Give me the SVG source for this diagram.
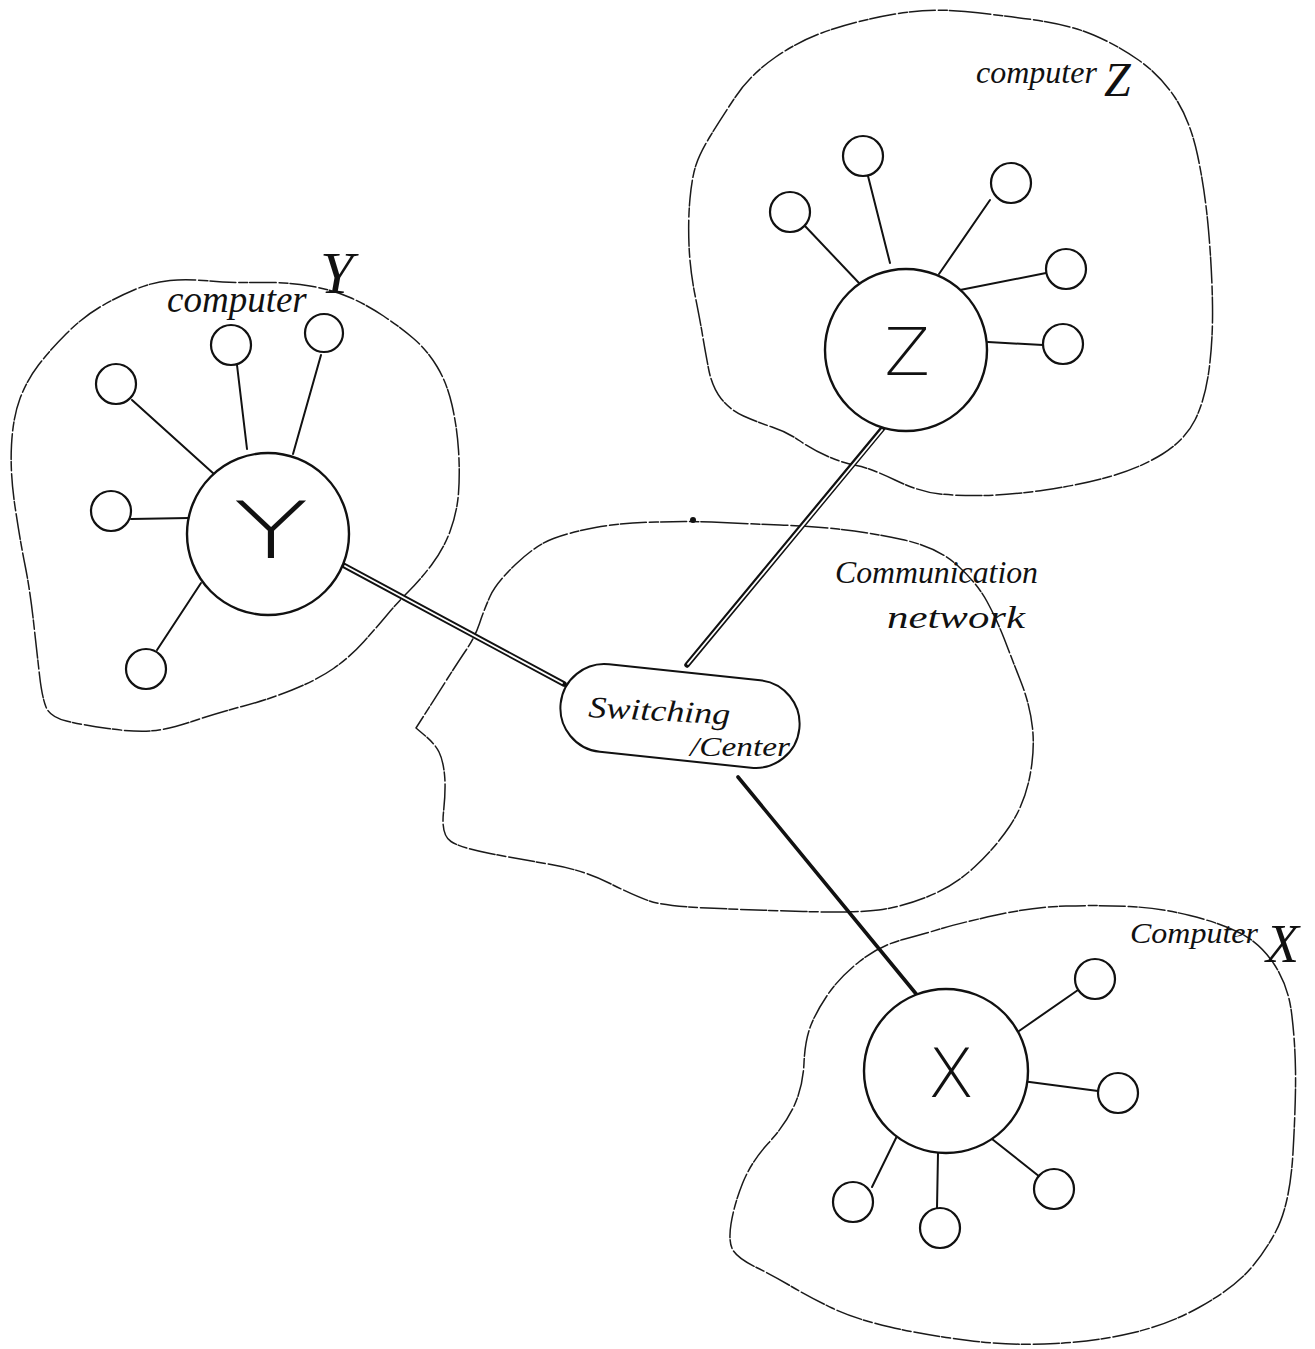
<svg xmlns="http://www.w3.org/2000/svg" width="1315" height="1349" viewBox="0 0 1315 1349">
<style>
.blob{fill:none;stroke:#1a1a1a;stroke-width:1.5;stroke-dasharray:26 3 9 2;stroke-linecap:round;stroke-linejoin:round}
.big{fill:#fff;stroke:#111;stroke-width:2.4}
.small{fill:#fff;stroke:#111;stroke-width:2.2}
.spoke{stroke:#111;stroke-width:2;stroke-linecap:round}
.pipeOut{stroke:#111;stroke-width:5.5;stroke-linecap:round}
.pipeIn{stroke:#fff;stroke-width:1.8;stroke-linecap:round}
.solid{stroke:#111;stroke-width:3.6;stroke-linecap:round}
.hand{font-family:"Liberation Serif","DejaVu Serif",serif;font-style:italic;fill:#111}
.letter{font-family:"DejaVu Sans","Liberation Sans",sans-serif;font-weight:200;fill:#111}
.box{fill:#fff;stroke:#111;stroke-width:2}
</style>
<rect width="1315" height="1349" fill="#fff"/>

<g id="region-computer-Z">
<path class="blob" d="M965,11.5 Q1000,15 1035,20 Q1070,25 1093.5,35 Q1117,45 1138.5,60 Q1160,75 1175,97.5 Q1190,120 1197.5,155 Q1205,190 1208.5,230 Q1212,270 1212.5,305 Q1213,340 1209,370 Q1205,400 1195,420 Q1185,440 1162.5,454 Q1140,468 1110,476.5 Q1080,485 1045,490 Q1010,495 985,495.5 Q960,496 940,494 Q920,492 895,480 Q870,468 856.5,465.5 Q843,463 828,456.5 Q813,450 800,441 Q787,432 772,427 Q757,422 743.5,416 Q730,410 721,398.5 Q712,387 708.5,368.5 Q705,350 702.5,335 Q700,320 695,295 Q690,270 689,245 Q688,220 690,198.5 Q692,177 696,165 Q700,153 710,136.5 Q720,120 735,97.5 Q750,75 775,57.5 Q800,40 830,30 Q860,20 895,14 Q930,8 965,11.5 Z"/>
<text class="hand" x="976" y="83" font-size="32">computer</text>
<text class="hand" x="1104" y="96" font-size="48">Z</text>
</g>

<g id="region-computer-Y">
<path class="blob" d="M170,280.5 Q187,279 210,281 Q233,283 260,282.5 Q287,282 310,286 Q333,290 350,297.5 Q367,305 383.5,316 Q400,327 413.5,338.5 Q427,350 437,366.5 Q447,383 452,405 Q457,427 458.5,450 Q460,473 458.5,493 Q457,513 450,531.5 Q443,550 431.5,565 Q420,580 408.5,591.5 Q397,603 387,615 Q377,627 363.5,642 Q350,657 333.5,668.5 Q317,680 292,690 Q267,700 242,706.5 Q217,713 192,721.5 Q167,730 150,731 Q133,732 108,728.5 Q83,725 66.5,721 Q50,717 46,707 Q42,697 39.5,675 Q37,653 33.5,621.5 Q30,590 25,565 Q20,540 15,506.5 Q10,473 11.5,445 Q13,417 20,398.5 Q27,380 38.5,365 Q50,350 66.5,333.5 Q83,317 100,307 Q117,297 135,289.5 Q153,282 170,280.5 Z"/>
<text class="hand" x="167" y="312" font-size="37">computer</text>
<text class="hand" x="320" y="293" font-size="60">Y</text>
</g>

<g id="region-communication-network">
<path class="blob" d="M722,522.5 Q751,524 780,525 Q809,526 838,529 Q867,532 902,539.5 Q937,547 957,565 Q977,583 987,601.5 Q997,620 1004.5,639.5 Q1012,659 1021,682 Q1030,705 1032.5,728 Q1035,751 1029.5,778 Q1024,805 1009.5,826.5 Q995,848 974.5,867 Q954,886 928,896.5 Q902,907 878.5,910 Q855,913 803,911.5 Q751,910 707.5,908 Q664,906 649.5,901 Q635,896 609,883 Q583,870 551,864.5 Q519,859 490,853.5 Q461,848 451,841.5 Q441,835 443.5,812 Q446,789 444.5,774.5 Q443,760 439,752 Q435,744 425.5,736 L416,728 L424,715.5 Q432,703 445,682.5 Q458,662 466.5,649.5 Q475,637 479.5,623.5 Q484,610 490,596.5 Q496,583 516,564 Q536,545 553.5,538.5 Q571,532 595.5,527.5 Q620,523 656.5,522 Q693,521 722,522.5 Z"/>
<circle cx="693" cy="520" r="3" fill="#111"/>
<text class="hand" x="835" y="583" font-size="32" textLength="203" lengthAdjust="spacingAndGlyphs">Communication</text>
<text class="hand" x="887" y="628" font-size="32" textLength="138" lengthAdjust="spacingAndGlyphs">network</text>
</g>

<g id="region-computer-X">
<path class="blob" d="M903,939.5 Q927,933 943.5,928 Q960,923 996.5,915 Q1033,907 1066,906 Q1099,905 1129.5,906.5 Q1160,908 1190,915.5 Q1220,923 1240,933 Q1260,943 1274,964 Q1288,985 1291.5,1012.5 Q1295,1040 1295.5,1070 Q1296,1100 1293,1152.5 Q1290,1205 1275.5,1232 Q1261,1259 1244,1275.5 Q1227,1292 1198,1308 Q1169,1324 1134,1332.5 Q1099,1341 1055.5,1343.5 Q1012,1346 968.5,1340.5 Q925,1335 890,1327 Q855,1319 832,1308 Q809,1297 791.5,1286.5 Q774,1276 756.5,1267.5 Q739,1259 733.5,1251 Q728,1243 731,1224 Q734,1205 742.5,1183.5 Q751,1162 768.5,1143 Q786,1124 794.5,1105 Q803,1086 804,1063 Q805,1040 811,1025 Q817,1010 828.5,993.5 Q840,977 859.5,961.5 Q879,946 903,939.5 Z"/>
<text class="hand" x="1130" y="943" font-size="30" textLength="128" lengthAdjust="spacingAndGlyphs">Computer</text>
<text class="hand" x="1266" y="962" font-size="54">X</text>
</g>

<g id="connectors">
<line class="pipeOut" x1="343" y1="565" x2="564" y2="684"/>
<line class="pipeIn" x1="345" y1="566" x2="562" y2="683"/>
<line class="pipeOut" x1="883" y1="428" x2="687" y2="665"/>
<line class="pipeIn" x1="882" y1="430" x2="688" y2="664"/>
<line class="solid" x1="738" y1="777" x2="917" y2="995"/>
<line class="spoke" x1="868" y1="176" x2="890" y2="263"/>
<line class="spoke" x1="805" y1="226" x2="859" y2="283"/>
<line class="spoke" x1="990" y1="200" x2="939" y2="274"/>
<line class="spoke" x1="1046" y1="273" x2="960" y2="290"/>
<line class="spoke" x1="1043" y1="345" x2="988" y2="342"/>
<line class="spoke" x1="132" y1="400" x2="214" y2="474"/>
<line class="spoke" x1="237" y1="365" x2="247" y2="449"/>
<line class="spoke" x1="321" y1="355" x2="293" y2="454"/>
<line class="spoke" x1="131" y1="519" x2="189" y2="518"/>
<line class="spoke" x1="157" y1="650" x2="201" y2="583"/>
<line class="spoke" x1="1078" y1="990" x2="1019" y2="1031"/>
<line class="spoke" x1="1098" y1="1091" x2="1022" y2="1081"/>
<line class="spoke" x1="1040" y1="1177" x2="992" y2="1139"/>
<line class="spoke" x1="872" y1="1187" x2="897" y2="1136"/>
<line class="spoke" x1="937" y1="1208" x2="938" y2="1153"/>
</g>

<g id="node-Z">
<circle class="big" cx="906" cy="350" r="81"/>
<text class="letter" x="907" y="375" font-size="66" text-anchor="middle">Z</text>
</g>
<g id="node-Z-t1"><circle class="small" cx="863" cy="156" r="20"/></g>
<g id="node-Z-t2"><circle class="small" cx="790" cy="212" r="20"/></g>
<g id="node-Z-t3"><circle class="small" cx="1011" cy="183" r="20"/></g>
<g id="node-Z-t4"><circle class="small" cx="1066" cy="269" r="20"/></g>
<g id="node-Z-t5"><circle class="small" cx="1063" cy="344" r="20"/></g>

<g id="node-Y">
<circle class="big" cx="268" cy="534" r="81"/>
<text class="letter" x="233" y="558" font-size="78" textLength="76" lengthAdjust="spacingAndGlyphs">Y</text>
</g>
<g id="node-Y-t1"><circle class="small" cx="116" cy="384" r="20"/></g>
<g id="node-Y-t2"><circle class="small" cx="231" cy="345" r="20"/></g>
<g id="node-Y-t3"><circle class="small" cx="324" cy="333" r="19"/></g>
<g id="node-Y-t4"><circle class="small" cx="111" cy="511" r="20"/></g>
<g id="node-Y-t5"><circle class="small" cx="146" cy="669" r="20"/></g>

<g id="node-X">
<circle class="big" cx="946" cy="1071" r="82"/>
<text class="letter" x="951" y="1097" font-size="68" text-anchor="middle">X</text>
</g>
<g id="node-X-t1"><circle class="small" cx="1095" cy="979" r="20"/></g>
<g id="node-X-t2"><circle class="small" cx="1118" cy="1093" r="20"/></g>
<g id="node-X-t3"><circle class="small" cx="1054" cy="1189" r="20"/></g>
<g id="node-X-t4"><circle class="small" cx="853" cy="1202" r="20"/></g>
<g id="node-X-t5"><circle class="small" cx="940" cy="1228" r="20"/></g>

<g id="node-switching-center">
<rect class="box" x="560" y="672" width="240" height="88" rx="44" transform="rotate(6 680 716)"/>
<text class="hand" x="588" y="717" font-size="30" textLength="142" lengthAdjust="spacingAndGlyphs" transform="rotate(3 588 717)">Switching</text>
<text class="hand" x="690" y="756" font-size="28" textLength="100" lengthAdjust="spacingAndGlyphs">/Center</text>
</g>
</svg>
